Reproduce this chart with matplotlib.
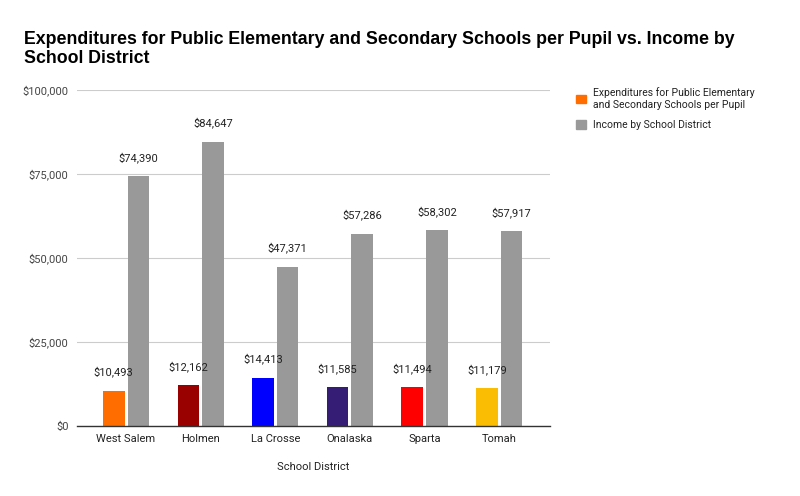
import matplotlib
matplotlib.use("Agg")
import matplotlib.pyplot as plt
from matplotlib.patches import Patch
import numpy as np

districts = ["West Salem", "Holmen", "La Crosse", "Onalaska", "Sparta", "Tomah"]
expenditures = [10493, 12162, 14413, 11585, 11494, 11179]
income = [74390, 84647, 47371, 57286, 58302, 57917]
exp_colors = ["#FF6D01", "#990000", "#0000FF", "#351C75", "#FF0000", "#FBBC04"]
income_color = "#999999"
yticks = [0, 25000, 50000, 75000, 100000]

plt.rcParams['font.family'] = ['Roboto', 'DejaVu Sans']

fig = plt.figure(figsize=(8, 4.96), dpi=100)
ax = fig.add_axes([77/800, 1-426/496, (550-77)/800, (426-90)/496])

x = np.arange(len(districts))
w = 0.29
off = 0.165
ax.bar(x - off, expenditures, width=w, color=exp_colors, zorder=3)
ax.bar(x + off, income, width=w, color=income_color, zorder=3)

for xi, v in zip(x, expenditures):
    ax.annotate(f"${v:,}", (xi - off, v), xytext=(0, 9.5), textcoords="offset points",
                ha="center", va="bottom", fontsize=8, color="#222222", zorder=5)
for xi, v in zip(x, income):
    ax.annotate(f"${v:,}", (xi + off, v), xytext=(0, 9.5), textcoords="offset points",
                ha="center", va="bottom", fontsize=8, color="#222222", zorder=5)

ax.set_ylim(0, 100000)
ax.set_xlim(-0.657, 5.68)
ax.set_yticks(yticks)
ax.set_yticklabels([f"${t:,}" for t in yticks], fontsize=8, color="#444444")
ax.set_xticks(x)
ax.set_xticklabels(districts, fontsize=8, color="#222222")
ax.tick_params(axis='both', length=0, pad=6)
ax.grid(axis='y', color="#cccccc", linewidth=0.8, zorder=0)
for s in ["top", "right", "left"]:
    ax.spines[s].set_visible(False)
ax.spines["bottom"].set_color("#333333")
ax.spines["bottom"].set_linewidth(1.0)
ax.spines["bottom"].set_zorder(4)
ax.set_xlabel("School District", fontsize=8, color="#222222", labelpad=13)

fig.text(24/800, 1-63/496, "Expenditures for Public Elementary and Secondary Schools per Pupil vs. Income by\nSchool District",
         fontsize=12.8, fontweight="bold", family=["Liberation Sans", "DejaVu Sans"],
         ha="left", va="baseline", linespacing=1.15, color="#000000")

handles = [Patch(color="#FF6D01"), Patch(color=income_color)]
labels = ["Expenditures for Public Elementary\nand Secondary Schools per Pupil", "Income by School District"]
fig.legend(handles, labels, loc="upper left", bbox_to_anchor=(567/800, 1-78/496),
           frameon=False, fontsize=7.5, handlelength=0.9, handleheight=0.9,
           handletextpad=0.7, labelspacing=1.0, labelcolor="#222222")

fig.savefig("out.png", dpi=100, facecolor="white")
